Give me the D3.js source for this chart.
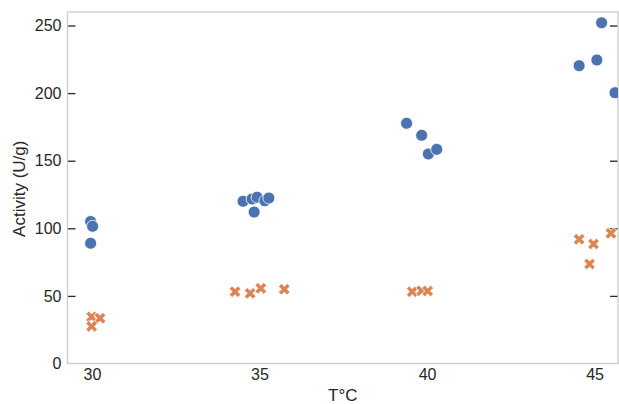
<!DOCTYPE html>
<html>
<head>
<meta charset="utf-8">
<script src="https://cdn.jsdelivr.net/npm/d3@7"></script>
<style>
  html, body { margin: 0; padding: 0; background: #fff; }
  svg { display: block; }
  text { font-family: "Liberation Sans", Arial, sans-serif; fill: #262626; }
</style>
</head>
<body>
<svg id="chart" width="619" height="404"></svg>
<script>
// ---- data ----
const xTicks = [30, 35, 40, 45];
const yTicks = [0, 50, 100, 150, 200, 250];

// series A (blue circles): temperature (jittered) and activity
const seriesAX = [29.96, 30.02, 29.96, 34.51, 34.78, 34.93, 35.16, 35.28, 34.84, 39.39, 39.84, 40.04, 40.29, 44.54, 45.07, 45.21, 45.61];
const seriesAY = [105, 101.5, 89, 120, 121.7, 123, 120.3, 122.4, 112, 177.7, 168.8, 155, 158.4, 220.3, 224.5, 252, 200.3];

// series B (orange crosses)
const seriesBX = [29.99, 30.24, 29.99, 34.27, 34.72, 35.04, 35.74, 39.56, 39.84, 40.02, 44.54, 44.97, 44.85, 45.49];
const seriesBY = [34.5, 33.5, 27.5, 53.1, 51.9, 55.6, 54.9, 53.1, 53.8, 53.6, 91.9, 88.4, 73.6, 96.3];

const xLabel = "T°C";
const yLabel = "Activity (U/g)";

// ---- layout ----
const L = 67.5, R = 618, T = 12, B = 363.5;
const svg = d3.select("#chart");

const x = d3.scaleLinear().domain([29.27, 45.70]).range([L, R]);
const y = d3.scaleLinear().domain([0, 260]).range([B, T]);

svg.append("defs").append("clipPath").attr("id", "clip")
  .append("rect").attr("x", L).attr("y", T).attr("width", R - L).attr("height", B - T);

const FONT = '"Liberation Sans", Arial, sans-serif';

// left axis: inward ticks
const yAxisL = svg.append("g").attr("transform", `translate(${L},0)`)
  .call(d3.axisLeft(y).tickValues(yTicks).tickSize(-8).tickPadding(6));
yAxisL.select(".domain").remove();
yAxisL.selectAll(".tick line").attr("stroke", "#262626").attr("stroke-width", 1.3)
  .filter(d => d === 0).remove();
yAxisL.selectAll(".tick text").style("font-size", "16px").attr("fill", "#262626")
  .style("font-family", FONT);

// right axis: inward ticks, no labels
const yAxisR = svg.append("g").attr("transform", `translate(${R},0)`)
  .call(d3.axisRight(y).tickValues(yTicks.filter(v => v > 0)).tickSize(-8).tickFormat(""));
yAxisR.select(".domain").remove();
yAxisR.selectAll(".tick line").attr("stroke", "#262626").attr("stroke-width", 1.3);

// bottom axis: labels only
const xAxis = svg.append("g").attr("transform", `translate(0,${B})`)
  .call(d3.axisBottom(x).tickValues(xTicks).tickSize(0).tickPadding(5.5));
xAxis.select(".domain").remove();
xAxis.selectAll(".tick text").style("font-size", "16px").attr("fill", "#262626")
  .style("font-family", FONT);

// frame (spines)
svg.append("rect").attr("x", L).attr("y", T).attr("width", R - L).attr("height", B - T)
  .attr("fill", "none").attr("stroke", "#cccccc").attr("stroke-width", 1.3);

// markers
const plot = svg.append("g").attr("clip-path", "url(#clip)");

plot.selectAll("circle.a").data(seriesAX.map((v, i) => [v, seriesAY[i]])).join("circle")
  .attr("class", "a")
  .attr("cx", d => x(d[0])).attr("cy", d => y(d[1])).attr("r", 6)
  .attr("fill", "#4c72b0").attr("stroke", "#fff").attr("stroke-width", 0.8);

const xSym = d3.symbol().type(d3.symbolCross).size(85);
plot.selectAll("path.b").data(seriesBX.map((v, i) => [v, seriesBY[i]])).join("path")
  .attr("class", "b")
  .attr("d", xSym)
  .attr("transform", d => `translate(${x(d[0])},${y(d[1])}) rotate(45)`)
  .attr("fill", "#dd8452").attr("stroke", "#fff").attr("stroke-width", 0.8);

// axis labels
svg.append("text").attr("x", (L + R) / 2).attr("y", 401).attr("text-anchor", "middle")
  .style("font-size", "17px").text(xLabel);
svg.append("text").attr("transform", `translate(25,${(T + B) / 2 + 1}) rotate(-90)`)
  .attr("text-anchor", "middle").style("font-size", "17px").text(yLabel);
</script>
</body>
</html>
